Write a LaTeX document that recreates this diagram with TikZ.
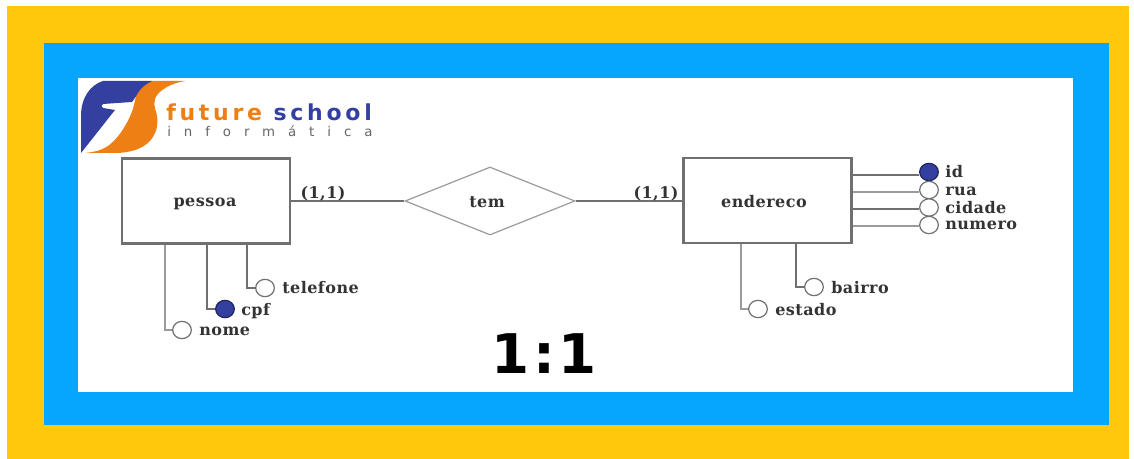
\documentclass[tikz,border=0pt]{standalone}
\usepackage{fontspec}
\setmainfont{DejaVu Serif}
\newfontfamily\onefont{DejaVu Sans}
\newfontfamily\logofont{DejaVu Sans}
\usetikzlibrary{shapes.geometric}
\definecolor{outerY}{HTML}{FFC80A}
\definecolor{innerB}{HTML}{06A6FF}
\definecolor{navyA}{HTML}{33409F}
\definecolor{orangeA}{HTML}{EE7F14}
\definecolor{lineG}{HTML}{707070}
\tikzset{
  entbox/.style={draw=lineG,line width=1.8pt,fill=white,minimum width=126pt,minimum height=64pt,inner sep=0pt},
  reln/.style={diamond,aspect=2.5,draw=lineG!70,line width=0.9pt,fill=white,minimum width=127.5pt,minimum height=51pt,inner sep=0pt},
  attrC/.style={ellipse,draw=lineG,line width=0.9pt,fill=white,minimum width=14pt,minimum height=13pt,inner sep=0pt},
  keyC/.style={attrC,fill=navyA,draw=navyA!60!black},
  lbl/.style={font=\fontsize{12}{12}\selectfont\bfseries\addfontfeature{LetterSpace=3},text=black!80,inner sep=0pt},
  conn/.style={draw=lineG,line width=1.3pt},
  conl/.style={draw=lineG!70,line width=1.3pt},
}
\begin{document}
\begin{tikzpicture}[x=0.75pt,y=-0.75pt]
\useasboundingbox (0,0) rectangle (1134,459);
\fill[outerY] (7,6) rectangle (1129,459);
\fill[innerB] (44,43) rectangle (1109,425);
\fill[white] (78,78) rectangle (1073,392);
% logo
\fill[navyA] (103,81) -- (153,81) .. controls (145,85) and (139,92) .. (132,102) -- (103,104) .. controls (101,105) and (101,107) .. (103,108) -- (115,110) -- (81,153) -- (81,116) .. controls (81,98) and (90,85) .. (103,81) -- cycle;
\fill[orangeA] (153,81) -- (185,81) .. controls (172,83) and (158,90) .. (155,99) .. controls (153,108) and (157,112) .. (157,116) .. controls (158,124) and (157,129) .. (155,133) .. controls (151,142) and (145,146) .. (138,149) .. controls (130,152) and (122,153) .. (115,153) -- (85,153) .. controls (95,152) and (102,150) .. (108,146) .. controls (115,141) and (121,133) .. (125,126) .. controls (129,120) and (131,114) .. (133,109) .. controls (135,102) and (135,97) .. (138,93) .. controls (141,88) and (147,83) .. (153,81) -- cycle;
\node[anchor=west,inner sep=0pt,font=\logofont\fontsize{16.5}{16.5}\selectfont\bfseries] (logoA) at (166,112) {\addfontfeature{LetterSpace=17}\textcolor{orangeA}{future} \textcolor{navyA}{school}};
\node[anchor=west,inner sep=0pt,font=\logofont\fontsize{10}{10}\selectfont,text=black!60] (logoB) at (167,131) {\addfontfeature{LetterSpace=97}informática};
% main nodes
\node[entbox] (pessoa) at (206,201) {};
\node[entbox] (endereco) at (767.5,200.5) {};
\node[reln] (tem) at (490,201) {};
\node[lbl] (tPessoa) at (205,204) {pessoa};
\node[lbl] (tEnd) at (764,202) {endereco};
\node[lbl] (tTem) at (487,202) {tem};
\draw[conn] (pessoa.east |- tem.west) -- (tem.west);
\draw[conn] (tem.east) -- (endereco.west |- tem.east);
\node[lbl,anchor=base] (cardA) at (323,199) {(1,1)};
\node[lbl,anchor=base] (cardB) at (656,199) {(1,1)};
% pessoa attributes
\node[attrC] (telefone) at (265,288) {};
\node[keyC] (cpf) at (225,309) {};
\node[attrC] (nome) at (182,330) {};
\draw[conn] ([xshift=31pt]pessoa.south) |- (telefone);
\draw[conn,line width=1.6pt] ([xshift=0.75pt]pessoa.south) |- (cpf);
\draw[conl] ([xshift=-31pt]pessoa.south) |- (nome);
\node[lbl,anchor=west] (tTel) at (282,288) {telefone};
\node[lbl,anchor=west] (tCpf) at (241,311) {cpf};
\node[lbl,anchor=west] (tNome) at (199,331) {nome};
% endereco attributes
\node[keyC] (id) at (929,172) {};
\node[attrC] (rua) at (929,190) {};
\node[attrC] (cidade) at (929,207.5) {};
\node[attrC] (numero) at (929,225) {};
\draw[conn] (endereco.east |- 0,175) -- (id.west |- 0,175);
\draw[conl] (endereco.east |- 0,192) -- (rua.west |- 0,192);
\draw[conn] (endereco.east |- 0,209) -- (cidade.west |- 0,209);
\draw[conl] (endereco.east |- 0,226) -- (numero.west |- 0,226);
\node[lbl,anchor=west] (tId) at (945,172) {id};
\node[lbl,anchor=west] (tRua) at (945,191) {rua};
\node[lbl,anchor=west] (tCid) at (945,208) {cidade};
\node[lbl,anchor=west] (tNum) at (945,225) {numero};
\node[attrC] (bairro) at (814,287) {};
\node[attrC] (estado) at (758,309) {};
\draw[conn] ([xshift=21.5pt]endereco.south) |- (bairro);
\draw[conl] ([xshift=-20pt]endereco.south) |- (estado);
\node[lbl,anchor=west] (tBai) at (831,288) {bairro};
\node[lbl,anchor=west] (tEst) at (775,310) {estado};
\node[inner sep=0pt,font=\onefont\fontsize{41}{41}\selectfont\bfseries] (ratio) at (544,354) {\addfontfeature{LetterSpace=6}1:1};
\end{tikzpicture}
\end{document}
